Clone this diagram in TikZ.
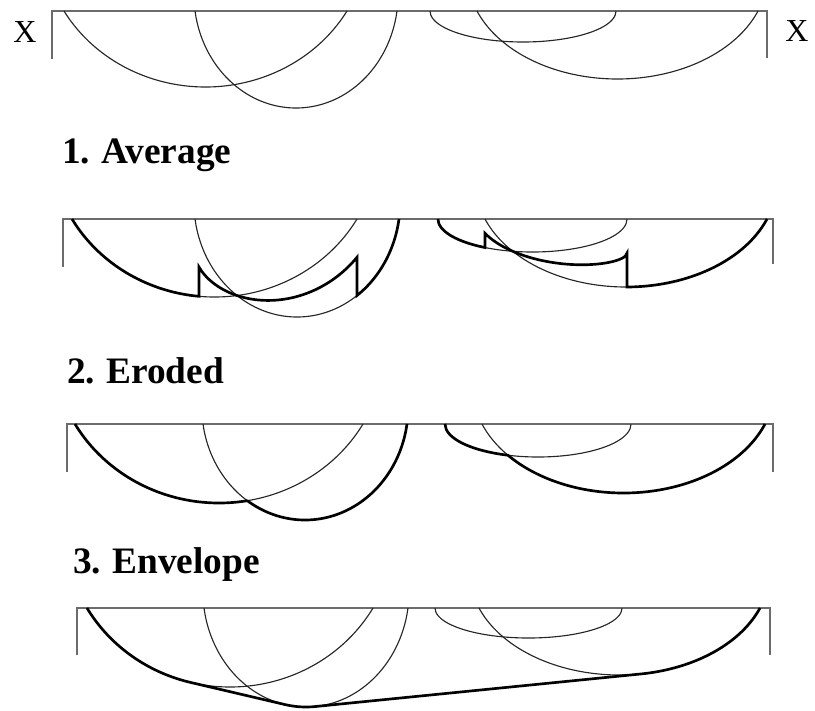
\documentclass[tikz,border=0pt]{standalone}
\usepackage{fontspec}
\setmainfont{Liberation Serif}
\begin{document}
\begin{tikzpicture}[x=0.75pt,y=-0.75pt,
  framel/.style={draw=black!58,line width=1.4pt},
  thinarc/.style={draw=black!85,line width=0.85pt},
  thickarc/.style={draw=black,line width=2pt,line join=miter},
  ttl/.style={inner sep=0pt,anchor=base west,font=\fontsize{28}{30}\selectfont\bfseries},
  xlab/.style={inner sep=0pt,anchor=base west,font=\fontsize{24}{26}\selectfont},
  declare function={arcY(\xa,\ca,\ta,\wa,\da,\sa)=\ta+max(0,\da/(1-\sa)*sqrt(max(0,1-((\xa-\ca)*sqrt(1-\sa*\sa)/\wa)^2))-\sa*\da/(1-\sa));}]
\useasboundingbox (0,0) rectangle (815,711);
\newcommand\arcplot[3][]{\draw[thinarc,#1] plot[domain=#2,samples=220] (\x,{#3(\x)});}

% ---------- panel 0 ----------
\begin{scope}[declare function={
  fa(\x)=arcY(\x,205.5,11,141.5,76,0.5);
  fb(\x)=arcY(\x,296,11,101,97,0.15);
  fc(\x)=arcY(\x,523,11,93,31,0);
  fd(\x)=arcY(\x,617.5,11,140.5,68,0.35);}]
\draw[framel] (52,59) -- (52,11) -- (767,11) -- (767,58);
\arcplot{64:347}{fa}
\arcplot{195:397}{fb}
\arcplot{430:616}{fc}
\arcplot{477:758}{fd}
\node[xlab] (xl) at (13,42) {X};
\node[xlab] (xr) at (785,41) {X};
\end{scope}

% ---------- panel 1 ----------
\node[ttl] (t1) at (62,163) {1.\hspace{0.3em}Average};
\begin{scope}[declare function={
  fa(\x)=arcY(\x,214.5,219,142.5,78,0.5);
  fb(\x)=arcY(\x,297,219,102,98,0.15);
  fc(\x)=arcY(\x,532.5,219,94.5,33,0);
  fd(\x)=arcY(\x,626,219,141,68,0.35);}]
\draw[framel] (63,267) -- (63,219) -- (773,219) -- (773,264);
\arcplot{72:357}{fa}
\arcplot{195:399}{fb}
\arcplot{438:627}{fc}
\arcplot{485:767}{fd}
\draw[thickarc]
  plot[domain=72:199,samples=80] (\x,{fa(\x)})
  -- plot[domain=199:357,samples=80] (\x,{0.5*(fa(\x)+fb(\x))})
  -- plot[domain=357:399,samples=80] (\x,{fb(\x)});
\draw[thickarc]
  plot[domain=438:485,samples=80] (\x,{fc(\x)})
  -- plot[domain=485:627,samples=80] (\x,{0.5*(fc(\x)+fd(\x))})
  -- plot[domain=627:767,samples=80] (\x,{fd(\x)});
\end{scope}

% ---------- panel 2 ----------
\node[ttl] (t2) at (67,383) {2.\hspace{0.3em}Eroded};
\begin{scope}[declare function={
  fa(\x)=arcY(\x,219,424,144,79,0.5);
  fb(\x)=arcY(\x,305,424,102,96,0.15);
  fc(\x)=arcY(\x,538,424,93,33,0);
  fd(\x)=arcY(\x,623.5,424,141.5,69,0.35);}]
\draw[framel] (67,472) -- (67,424) -- (773,424) -- (773,472);
\arcplot{75:363}{fa}
\arcplot{203:407}{fb}
\arcplot{445:631}{fc}
\arcplot{482:765}{fd}
\draw[thickarc] plot[domain=75:407,samples=260] (\x,{max(fa(\x),fb(\x))});
\draw[thickarc] plot[domain=445:765,samples=260] (\x,{max(fc(\x),fd(\x))});
\end{scope}

% ---------- panel 3 ----------
\node[ttl] (t3) at (73,573) {3.\hspace{0.3em}Envelope};
\begin{scope}[declare function={
  fa(\x)=arcY(\x,230,608,143,79,0.5);
  fb(\x)=arcY(\x,306,608,102,99,0.15);
  fc(\x)=arcY(\x,528.5,608,93.5,30,0);
  fd(\x)=arcY(\x,619.5,608,140.5,67,0.35);}]
\draw[framel] (77,655) -- (77,608) -- (770,608) -- (770,655);
\arcplot{87:373}{fa}
\arcplot{204:408}{fb}
\arcplot{435:622}{fc}
\arcplot{479:760}{fd}
\draw[thickarc]
  plot[domain=87:190.6,samples=60] (\x,{fa(\x)})
  -- plot[domain=285:315.1,samples=10] (\x,{fb(\x)})
  -- plot[domain=641.1:760,samples=60] (\x,{fd(\x)});
\end{scope}
\end{tikzpicture}
\end{document}
